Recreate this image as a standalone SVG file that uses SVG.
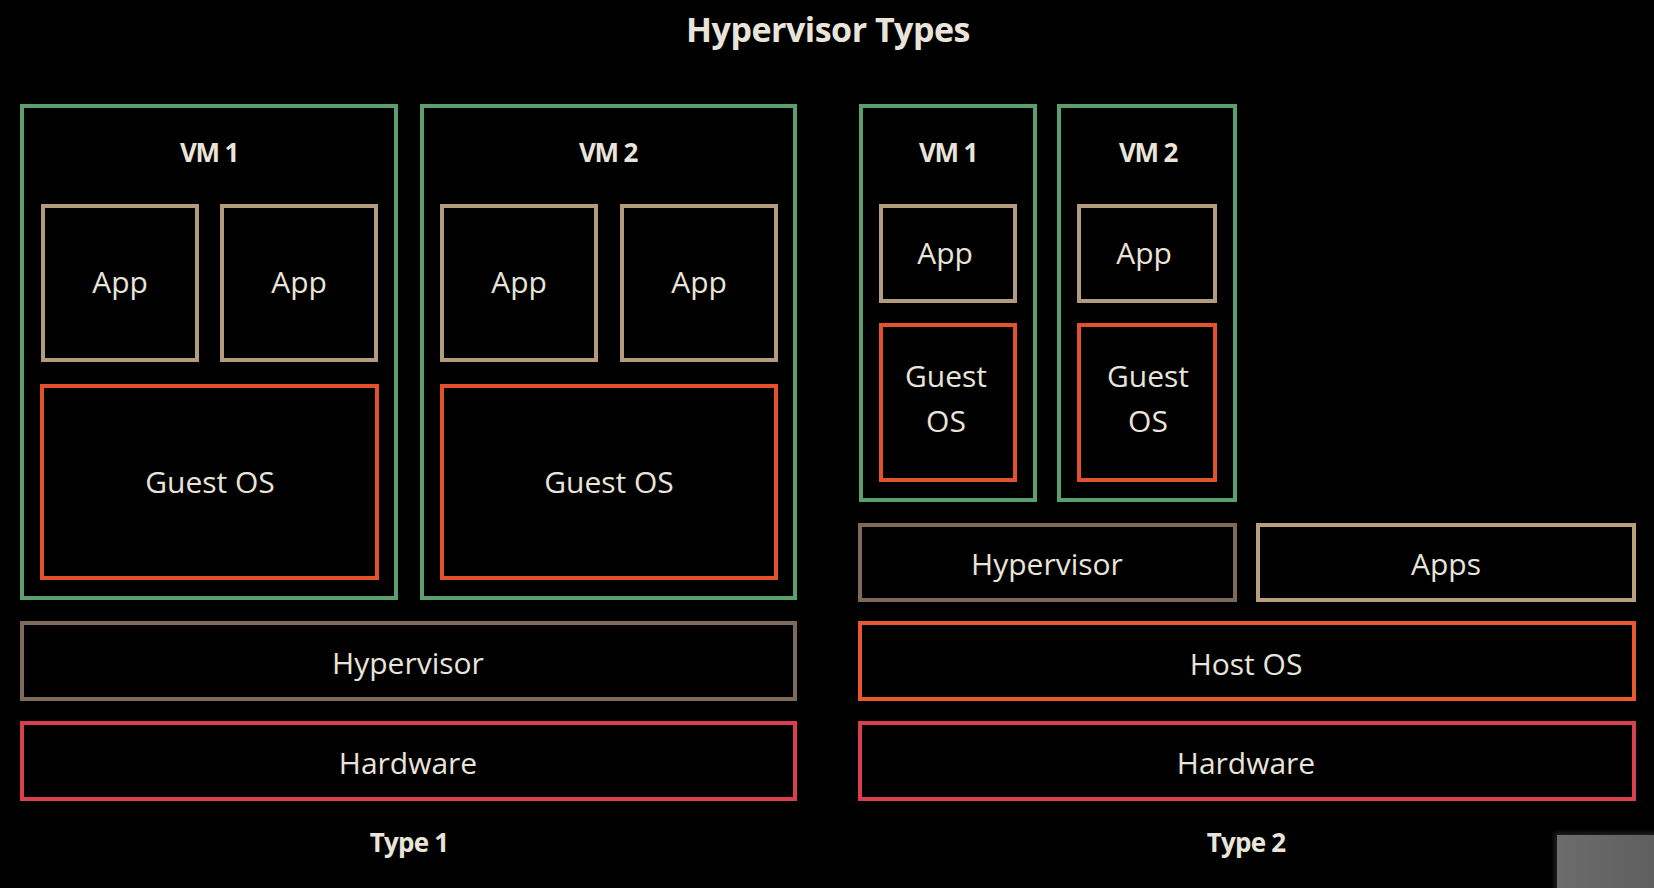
<svg xmlns="http://www.w3.org/2000/svg" width="1654" height="888" viewBox="0 0 1654 888">
  <defs>
    <style>
      .box { fill: none; stroke-width: 4; }
      .vm { stroke: #5c9e6e; }
      .app { stroke: #b39b7d; }
      .guest { stroke: #e2532d; }
      .hyp { stroke: #7d6a58; }
      .apps { stroke: #b8a07f; }
      .host { stroke: #e8592c; }
      .hw { stroke: #d8404f; }
      text { font-family: "Open Sans", "Noto Sans", "DejaVu Sans", sans-serif; fill: #e9e4da; text-anchor: middle; }
      .lbl { font-size: 30px; font-weight: 400; }
      .vml { font-size: 26px; font-weight: 700; letter-spacing: -1.2px; }
      .typ { font-size: 26px; font-weight: 700; letter-spacing: -0.8px; }
      .title { font-size: 34px; font-weight: 700; letter-spacing: -0.5px; }
    </style>
    <linearGradient id="grayGrad" x1="0" y1="0" x2="1" y2="0">
      <stop offset="0" stop-color="#6c6c6c"/>
      <stop offset="1" stop-color="#5f5f5f"/>
    </linearGradient>
    <filter id="soft" x="-20%" y="-20%" width="140%" height="140%">
      <feGaussianBlur stdDeviation="2"/>
    </filter>
  </defs>

  <rect x="0" y="0" width="1654" height="888" fill="#000000"/>

  <text id="title" class="title" x="828" y="42">Hypervisor Types</text>

  <!-- Type 1 -->
  <g id="t1-vm1">
    <rect class="box vm" x="22" y="106" width="374" height="492"/>
    <text class="vml" x="209" y="162">VM 1</text>
  </g>
  <g id="t1-vm1-app1">
    <rect class="box app" x="43" y="206" width="154" height="154"/>
    <text class="lbl" x="120" y="293">App</text>
  </g>
  <g id="t1-vm1-app2">
    <rect class="box app" x="222" y="206" width="154" height="154"/>
    <text class="lbl" x="299" y="293">App</text>
  </g>
  <g id="t1-vm1-guest">
    <rect class="box guest" x="42" y="386" width="335" height="192"/>
    <text class="lbl" x="210" y="493">Guest OS</text>
  </g>

  <g id="t1-vm2">
    <rect class="box vm" x="422" y="106" width="373" height="492"/>
    <text class="vml" x="608" y="162">VM 2</text>
  </g>
  <g id="t1-vm2-app1">
    <rect class="box app" x="442" y="206" width="154" height="154"/>
    <text class="lbl" x="519" y="293">App</text>
  </g>
  <g id="t1-vm2-app2">
    <rect class="box app" x="622" y="206" width="154" height="154"/>
    <text class="lbl" x="699" y="293">App</text>
  </g>
  <g id="t1-vm2-guest">
    <rect class="box guest" x="442" y="386" width="334" height="192"/>
    <text class="lbl" x="609" y="493">Guest OS</text>
  </g>

  <g id="t1-hypervisor">
    <rect class="box hyp" x="22" y="623" width="773" height="76"/>
    <text class="lbl" x="408" y="674">Hypervisor</text>
  </g>
  <g id="t1-hardware">
    <rect class="box hw" x="22" y="723" width="773" height="76"/>
    <text class="lbl" x="408" y="774">Hardware</text>
  </g>
  <text id="type1" class="typ" x="409" y="852">Type 1</text>

  <!-- Type 2 -->
  <g id="t2-vm1">
    <rect class="box vm" x="861" y="106" width="174" height="394"/>
    <text class="vml" x="948" y="162">VM 1</text>
  </g>
  <g id="t2-vm1-app">
    <rect class="box app" x="881" y="206" width="134" height="95"/>
    <text class="lbl" x="945" y="264">App</text>
  </g>
  <g id="t2-vm1-guest">
    <rect class="box guest" x="881" y="325" width="134" height="155"/>
    <text class="lbl" x="946" y="387">Guest</text>
    <text class="lbl" x="946" y="432">OS</text>
  </g>

  <g id="t2-vm2">
    <rect class="box vm" x="1059" y="106" width="176" height="394"/>
    <text class="vml" x="1148" y="162">VM 2</text>
  </g>
  <g id="t2-vm2-app">
    <rect class="box app" x="1079" y="206" width="136" height="95"/>
    <text class="lbl" x="1144" y="264">App</text>
  </g>
  <g id="t2-vm2-guest">
    <rect class="box guest" x="1079" y="325" width="136" height="155"/>
    <text class="lbl" x="1148" y="387">Guest</text>
    <text class="lbl" x="1148" y="432">OS</text>
  </g>

  <g id="t2-hypervisor">
    <rect class="box hyp" x="860" y="525" width="375" height="75"/>
    <text class="lbl" x="1047" y="575">Hypervisor</text>
  </g>
  <g id="t2-apps">
    <rect class="box apps" x="1258" y="525" width="376" height="75"/>
    <text class="lbl" x="1446" y="575">Apps</text>
  </g>
  <g id="t2-hostos">
    <rect class="box host" x="860" y="623" width="774" height="76"/>
    <text class="lbl" x="1246" y="675">Host OS</text>
  </g>
  <g id="t2-hardware">
    <rect class="box hw" x="860" y="723" width="774" height="76"/>
    <text class="lbl" x="1246" y="774">Hardware</text>
  </g>
  <text id="type2" class="typ" x="1246" y="852">Type 2</text>

  <g id="connectors"></g>

  <g id="corner-overlay">
    <rect x="1554" y="832" width="104" height="60" fill="#1a1a1a" filter="url(#soft)"/>
    <rect x="1557" y="835" width="97" height="53" fill="url(#grayGrad)"/>
  </g>
</svg>
